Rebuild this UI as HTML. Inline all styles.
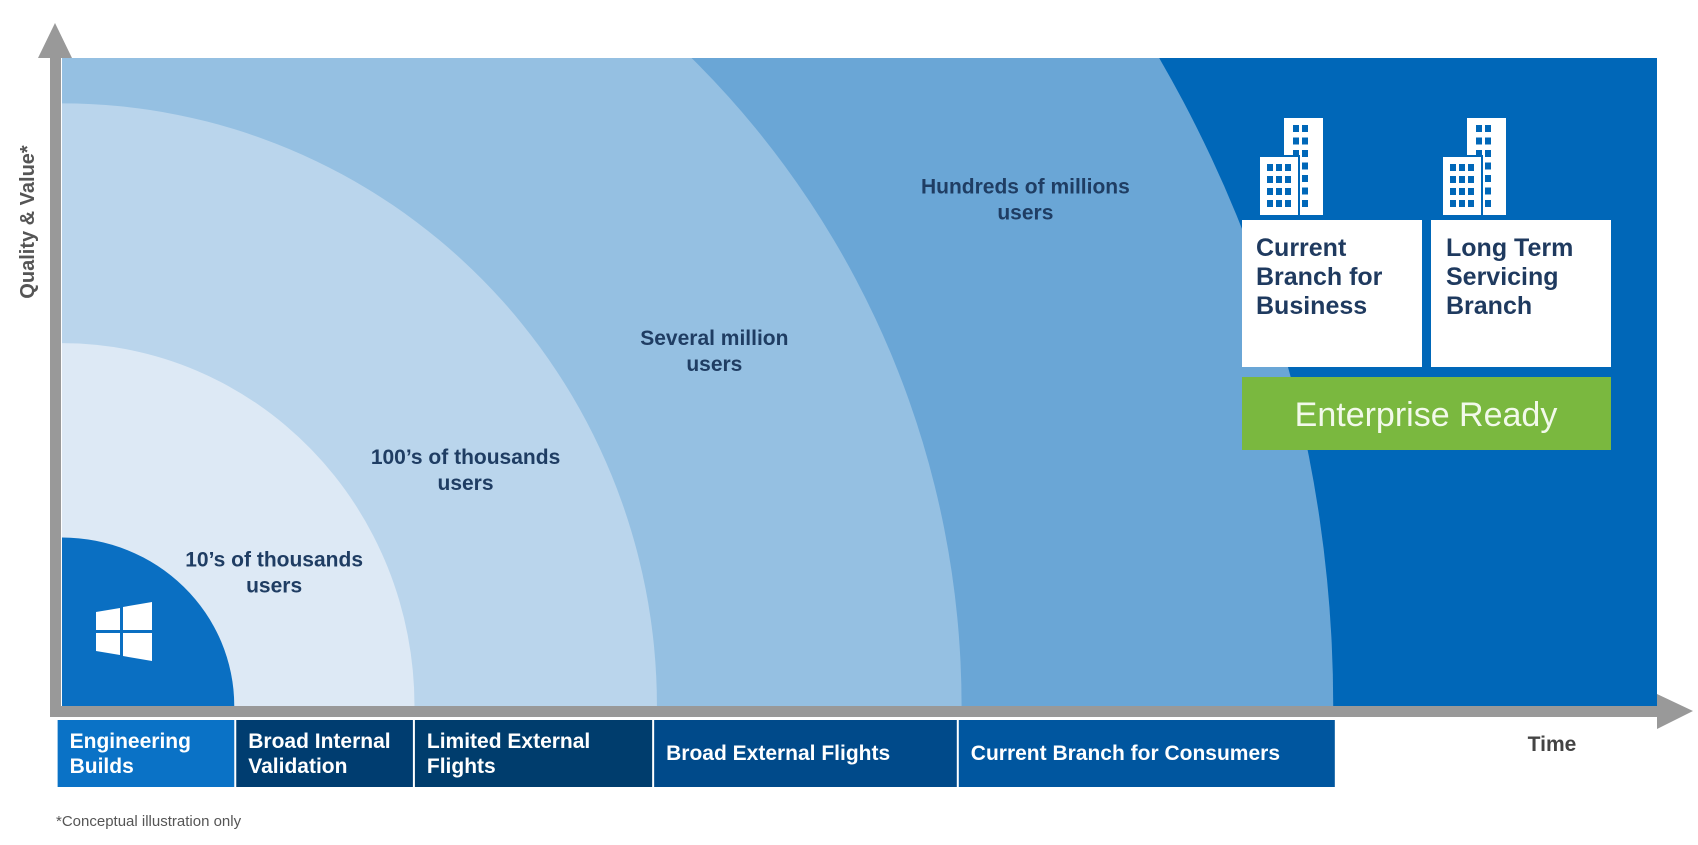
<!DOCTYPE html>
<html><head><meta charset="utf-8">
<style>
html,body{margin:0;padding:0;background:#fff;width:1698px;height:845px;overflow:hidden;}
body{position:relative;font-family:"Liberation Sans",sans-serif;}
svg{position:absolute;left:0;top:0;display:block;}
</style></head>
<body>
<svg id="chart" width="1698" height="845" viewBox="0 0 1698 845">
  <defs><clipPath id="plotclip"><rect x="62" y="58" width="1595" height="648"/></clipPath></defs>
  <rect x="62" y="58" width="1595" height="648" fill="#0067b8"/>
  <g id="bands" clip-path="url(#plotclip)"></g>
  <g id="labels"></g>
  <g id="phases"></g>
  <rect x="50" y="50" width="11" height="667" fill="#999"/>
  <polygon points="55,23 38,58 72,58" fill="#999"/>
  <rect x="50" y="706" width="1610" height="11" fill="#999"/>
  <polygon points="1657,694 1693,711 1657,729" fill="#999"/>
  <text x="34" y="222" transform="rotate(-90 34 222)" text-anchor="middle" font-size="20" font-weight="bold" fill="#555">Quality &amp; Value*</text>
  <text x="1552" y="751" text-anchor="middle" font-size="21" font-weight="bold" fill="#444">Time</text>
  <text x="56" y="826" font-size="15" fill="#555">*Conceptual illustration only</text>
  <g fill="#fff">
    <polygon points="96,612 120,608 120,630 96,630"/>
    <polygon points="123,607 152,602 152,630 123,630"/>
    <polygon points="96,633 120,633 120,655 96,651"/>
    <polygon points="123,633 152,633 152,661 123,656"/>
  </g>
  <g id="buildings"></g>
  <rect x="1242" y="220" width="180" height="147" fill="#fff"/>
  <text font-size="25" font-weight="bold" fill="#1f3a5f">
    <tspan x="1256" y="256">Current</tspan><tspan x="1256" y="285">Branch for</tspan><tspan x="1256" y="314">Business</tspan></text>
  <rect x="1431" y="220" width="180" height="147" fill="#fff"/>
  <text font-size="25" font-weight="bold" fill="#1f3a5f">
    <tspan x="1446" y="256">Long Term</tspan><tspan x="1446" y="285">Servicing</tspan><tspan x="1446" y="314">Branch</tspan></text>
  <rect x="1242" y="377" width="369" height="73" fill="#7ab83f"/>
  <text x="1426" y="426" text-anchor="middle" font-size="34" fill="#f2f9ea">Enterprise Ready</text>
</svg>
<script>
const ringNames = ["engineering", "tens-of-thousands", "hundreds-of-thousands", "several-million", "hundreds-of-millions"];
const ringTime = [10.8, 22.1, 37.3, 56.4, 79.7];
const ringQuality = [26, 56, 93, 140, 198];
const ringColors = ["#0a6fc2", "#dde9f5", "#bad5ec", "#95c0e2", "#6aa6d6"];
const ringLabels = [null, ["10\u2019s of thousands","users"], ["100\u2019s of thousands","users"], ["Several million","users"], ["Hundreds of millions","users"]];
const labelPos = [[0,0],[13.3,20.6],[25.3,36.4],[40.9,54.8],[60.4,78.2]];
const phaseNames = ["Engineering|Builds","Broad Internal|Validation","Limited External|Flights","Broad External Flights","Current Branch for Consumers"];
const phaseEnd = [10.8, 22.0, 37.0, 56.1, 79.8];
const phaseColors = ["#0a72c6","#003d70","#003d6d","#004a8a","#00569f"];

const X0=62, Y0=706, W=1595, H=648;
const sx = v => v/100*W;
const sy = v => v/100*H;
const NS="http://www.w3.org/2000/svg";
const bands=document.getElementById('bands');
for(let i=ringTime.length-1;i>=0;i--){
  const e=document.createElementNS(NS,'ellipse');
  e.setAttribute('cx',X0); e.setAttribute('cy',Y0);
  e.setAttribute('rx',sx(ringTime[i])); e.setAttribute('ry',sy(ringQuality[i]));
  e.setAttribute('fill',ringColors[i]);
  
  
  bands.appendChild(e);
}
const lg=document.getElementById('labels');
ringLabels.forEach((l,i)=>{
  if(!l) return;
  const t=document.createElementNS(NS,'text');
  t.setAttribute('text-anchor','middle'); t.setAttribute('font-size','21'); t.setAttribute('font-weight','bold'); t.setAttribute('fill','#1f3d63');
  const cx=X0+sx(labelPos[i][0]), cy=Y0-sy(labelPos[i][1]);
  l.forEach((s,k)=>{const ts=document.createElementNS(NS,'tspan');ts.setAttribute('x',cx);ts.setAttribute('y',cy-6+k*26);ts.textContent=s;t.appendChild(ts);});
  
  
  lg.appendChild(t);
});
const pg=document.getElementById('phases');
let start=-0.4;
phaseNames.forEach((n,i)=>{
  const x1=X0+sx(start)+2, x2=X0+sx(phaseEnd[i]);
  const r=document.createElementNS(NS,'rect');
  r.setAttribute('x',x1);r.setAttribute('y',720);r.setAttribute('width',x2-x1);r.setAttribute('height',67);r.setAttribute('fill',phaseColors[i]);
  
  
  pg.appendChild(r);
  const t=document.createElementNS(NS,'text');
  t.setAttribute('font-size','21');t.setAttribute('font-weight','bold');t.setAttribute('fill','#fff');
  const lines=n.split('|');
  lines.forEach((s,k)=>{const ts=document.createElementNS(NS,'tspan');ts.setAttribute('x',x1+12);ts.setAttribute('y',(lines.length>1?748:760)+k*25);ts.textContent=s;t.appendChild(ts);});
  
  
  pg.appendChild(t);
  start=phaseEnd[i];
});
const bg=document.getElementById('buildings');
[1260,1443].forEach((bx,j)=>{
  const g=document.createElementNS(NS,'g');
  let h='<rect x="'+(bx+24)+'" y="118" width="39" height="97" fill="#fff"/>';
  for(let r=0;r<7;r++){ for(let c=0;c<2;c++){ h+='<rect x="'+(bx+33+c*9)+'" y="'+(125+r*12.5)+'" width="6" height="7" fill="#0067b8"/>'; } }
  h+='<rect x="'+(bx-2)+'" y="155" width="42" height="60" fill="#0067b8"/>'+
     '<rect x="'+bx+'" y="157" width="38" height="58" fill="#fff"/>';
  for(let r=0;r<4;r++){ for(let c=0;c<3;c++){ h+='<rect x="'+(bx+7+c*9)+'" y="'+(164+r*12)+'" width="6" height="7" fill="#0067b8"/>'; } }
  g.innerHTML=h;
  
  
  bg.appendChild(g);
});
</script>
</body></html>
